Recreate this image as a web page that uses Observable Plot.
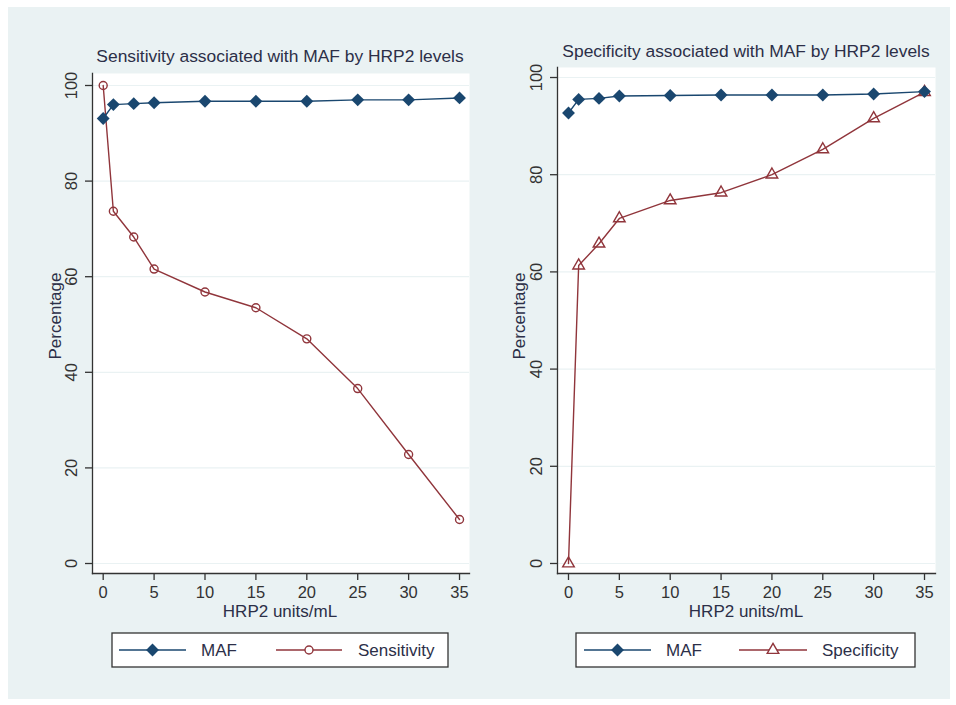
<!DOCTYPE html>
<html><head><meta charset="utf-8">
<script src="https://cdn.jsdelivr.net/npm/d3@7"></script>
<script src="https://cdn.jsdelivr.net/npm/@observablehq/plot@0.6"></script>
<style>
body{margin:0;background:#fff;font-family:"Liberation Sans",Arial,sans-serif;}
#wrap{position:relative;width:956px;height:705px;overflow:hidden;background:#fff}
#bg{position:absolute;left:8px;top:7px;width:942px;height:692px;background:#eaf2f3}
.panel{position:absolute;top:0;width:478px;height:705px}
.panel svg.plot{position:absolute;left:0;top:0;overflow:visible}
.title{position:absolute;font-size:17.4px;line-height:17px;color:#2c2f48;white-space:nowrap;transform:translateX(-50%)}
.xlab{position:absolute;font-size:17px;line-height:17px;color:#2c2f48;white-space:nowrap;transform:translateX(-50%)}
.ylab{position:absolute;font-size:17px;line-height:17px;color:#2c2f48;white-space:nowrap;transform:translate(-50%,-50%) rotate(-90deg)}
.legend{position:absolute}
</style></head><body>
<div id="wrap"><div id="bg"></div></div>
<script>
const hrp2 = [0, 1, 3, 5, 10, 15, 20, 25, 30, 35];
const mafSens = [93.1, 96.0, 96.2, 96.4, 96.7, 96.7, 96.7, 97.0, 97.0, 97.4];
const sensitivity = [100, 73.7, 68.3, 61.6, 56.8, 53.5, 47.0, 36.6, 22.8, 9.2];
const mafSpec = [92.7, 95.5, 95.7, 96.2, 96.3, 96.4, 96.4, 96.4, 96.6, 97.1];
const specificity = [0, 61.3, 65.8, 71.0, 74.7, 76.3, 80.0, 85.2, 91.6, 97.0];
const xTicks = [0, 5, 10, 15, 20, 25, 30, 35];
const yTicks = [0, 20, 40, 60, 80, 100];
const titles = ["Sensitivity associated with MAF by HRP2 levels", "Specificity associated with MAF by HRP2 levels"];
const seriesNames = [["MAF", "Sensitivity"], ["MAF", "Specificity"]];

const NAVY = "#1a476f", MAROON = "#90353b", INK = "#333";

function rows(vals) { return hrp2.map((x, i) => ({x, y: vals[i]})); }

function panel(opts) {
  const div = document.createElement("div");
  div.className = "panel";
  div.style.left = opts.left + "px";
  const maf = rows(opts.maf), other = rows(opts.other);
  const svg = Plot.plot({
    width: 478, height: 640,
    marginLeft: opts.mL, marginRight: opts.mR, marginTop: opts.mT, marginBottom: 640 - 573,
    style: {background: "transparent", fontFamily: "Liberation Sans, Arial, sans-serif", color: INK},
    x: {domain: opts.xd, ticks: xTicks},
    y: {domain: opts.yd, ticks: yTicks},
    marks: [
      Plot.frame({fill: "white", stroke: null}),
      Plot.gridY(yTicks, {stroke: "#eaf2f3", strokeOpacity: 1, strokeWidth: 1.2}),
      Plot.frame({anchor: "left", stroke: "#333", strokeWidth: 1.3}),
      Plot.frame({anchor: "bottom", stroke: "#333", strokeWidth: 1.3}),
      Plot.axisX(xTicks, {tickSize: 7, tickPadding: 6, fontSize: 16.5, label: null, stroke: "#333", strokeWidth: 1.3}),
      Plot.axisY(yTicks, {tickSize: 7, tickPadding: 9, tickRotate: -90, fontSize: 16.5, label: null, stroke: "#333", strokeWidth: 1.3}),
      Plot.line(other, {x: "x", y: "y", stroke: MAROON, strokeWidth: 1.4}),
      Plot.dot(other, {x: "x", y: "y", symbol: opts.sym, r: opts.symR, stroke: MAROON, strokeWidth: 1.4, fill: "white", fillOpacity: 0}),
      Plot.line(maf, {x: "x", y: "y", stroke: NAVY, strokeWidth: 1.4}),
      Plot.dot(maf, {x: "x", y: "y", symbol: "diamond2", r: 5.8, fill: NAVY, stroke: "none"})
    ]
  });
  svg.classList.add("plot");
  div.appendChild(svg);

  const t = document.createElement("div");
  t.className = "title"; t.textContent = opts.title;
  t.style.left = opts.titleX + "px"; t.style.top = opts.titleTop + "px";
  div.appendChild(t);

  const xl = document.createElement("div");
  xl.className = "xlab"; xl.textContent = "HRP2 units/mL";
  xl.style.left = opts.titleX + "px"; xl.style.top = "603px";
  div.appendChild(xl);

  const yl = document.createElement("div");
  yl.className = "ylab"; yl.textContent = "Percentage";
  yl.style.left = opts.ylX + "px"; yl.style.top = "316px";
  div.appendChild(yl);

  // legend
  const W = opts.legW, H = 34;
  const lg = d3.create("svg").attr("class", "legend").attr("width", W + 2).attr("height", H + 2)
    .style("left", (opts.legX - 1) + "px").style("top", "632px");
  lg.append("rect").attr("x", 1).attr("y", 1).attr("width", W).attr("height", H)
    .attr("fill", "white").attr("stroke", "#333").attr("stroke-width", 1.3);
  const cy = 18;
  const items = [
    {x0: opts.leg[0], x1: opts.leg[1], color: NAVY, sym: d3.symbolDiamond2, size: Math.PI * 5.8 * 5.8, fill: NAVY, tx: opts.leg[2], name: opts.names[0]},
    {x0: opts.leg[3], x1: opts.leg[4], color: MAROON, sym: opts.legSym, size: Math.PI * opts.symR * opts.symR, fill: "none", tx: opts.leg[5], name: opts.names[1]}
  ];
  for (const it of items) {
    lg.append("line").attr("x1", it.x0).attr("x2", it.x1).attr("y1", cy).attr("y2", cy)
      .attr("stroke", it.color).attr("stroke-width", 1.4);
    lg.append("path").attr("d", d3.symbol(it.sym, it.size)())
      .attr("transform", `translate(${(it.x0 + it.x1) / 2},${cy})`)
      .attr("fill", it.fill === "none" ? "white" : it.fill).attr("stroke", it.fill === "none" ? it.color : "none").attr("stroke-width", 1.4);
    lg.append("text").attr("x", it.tx).attr("y", cy + 6).attr("font-size", 17)
      .attr("font-family", "Liberation Sans, Arial, sans-serif").attr("fill", "#2c2f48").text(it.name);
  }
  div.appendChild(lg.node());
  document.getElementById("wrap").appendChild(div);
}

panel({
  left: 0, maf: mafSens, other: sensitivity, sym: "circle", symR: 4, legSym: d3.symbolCircle,
  mL: 92, mR: 9, mT: 73, xd: [-1.05, 35.98], yd: [-2.09, 102.51],
  title: titles[0], titleX: 280, titleTop: 48, ylX: 55,
  legX: 112, legW: 336, leg: [8, 75, 90, 165, 231, 247], names: seriesNames[0]
});
panel({
  left: 478, maf: mafSpec, other: specificity, sym: "triangle", symR: 4.3, legSym: d3.symbolTriangle,
  mL: 79, mR: 21, mT: 67, xd: [-1.08, 36.08], yd: [-2.06, 102.06],
  title: titles[1], titleX: 268, titleTop: 43, ylX: 41,
  legX: 98, legW: 339, leg: [9, 76, 91, 164, 232, 247], names: seriesNames[1]
});
</script>
</body></html>
